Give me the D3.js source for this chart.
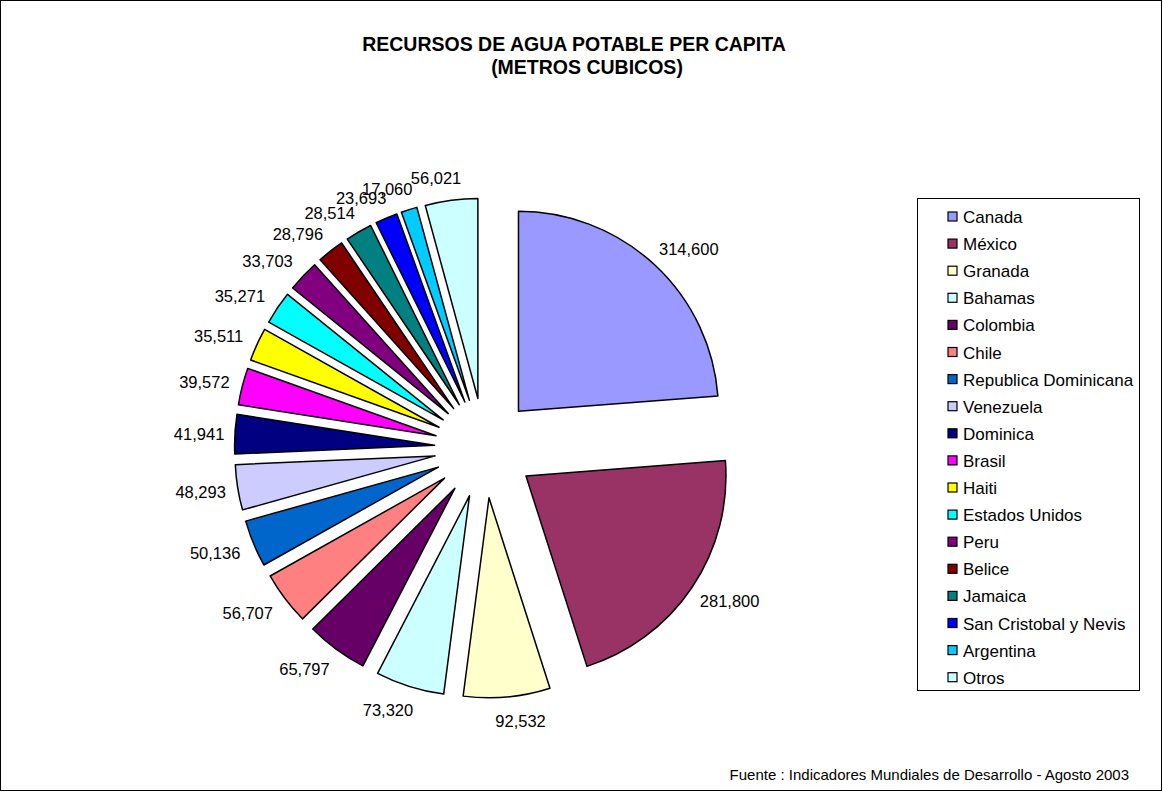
<!DOCTYPE html>
<html><head><meta charset="utf-8">
<script src="https://cdn.jsdelivr.net/npm/d3@7"></script>
<style>body{margin:0;background:#fff;font-family:Arial,"Liberation Sans",sans-serif;}</style>
</head><body><svg id="c" width="1163" height="792"></svg>
<script>
const categories = ["Canada","México","Granada","Bahamas","Colombia","Chile","Republica Dominicana","Venezuela","Dominica","Brasil","Haiti","Estados Unidos","Peru","Belice","Jamaica","San Cristobal y Nevis","Argentina","Otros"];
const values = [314600,281800,92532,73320,65797,56707,50136,48293,41941,39572,35511,35271,33703,28796,28514,23693,17060,56021];
const colors = ["#9999FF","#993366","#FFFFCC","#CCFFFF","#660066","#FF8080","#0066CC","#CCCCFF","#000080","#FF00FF","#FFFF00","#00FFFF","#800080","#800000","#008080","#0000FF","#00CCFF","#CCFFFF"];
const titleLines = ["RECURSOS DE AGUA POTABLE PER CAPITA","(METROS CUBICOS)"];
const source = "Fuente : Indicadores Mundiales de Desarrollo - Agosto 2003";

const svg = d3.select("#c");
const font = 'Arial, "Liberation Sans", sans-serif';
svg.append("rect").attr("x",0.5).attr("y",0.5).attr("width",1161).attr("height",790).attr("fill","#fff").attr("stroke","#000").attr("stroke-width",1);

const titleX = [574, 587];
svg.selectAll("text.title").data(titleLines).join("text").attr("class","title")
  .attr("x",(d,i)=>titleX[i]).attr("y",(d,i)=>51+i*23).attr("text-anchor","middle")
  .attr("font-family",font).attr("font-weight","bold").attr("font-size",19.5).text(d=>d);

const cx=484.5, cy=448, R=200, explode=50;
const fmt = d3.format(",");
const pie = d3.pie().sort(null).value(d=>d.v).startAngle(0).endAngle(2*Math.PI);
const data = pie(values.map((v,i)=>({v,name:categories[i],color:colors[i]})));
const arc = d3.arc().innerRadius(0).outerRadius(R);
const g = svg.append("g").attr("transform",`translate(${cx},${cy})`);
data.forEach(d=>{
  const m=(d.startAngle+d.endAngle)/2;
  d.dx=Math.sin(m); d.dy=-Math.cos(m);
  d.ox=d.dx*explode; d.oy=d.dy*explode;
});
g.selectAll("path").data(data).join("path")
  .attr("transform",d=>`translate(${d.ox},${d.oy})`)
  .attr("d",arc).attr("fill",d=>d.data.color).attr("stroke","#000").attr("stroke-width",1.5).attr("stroke-linejoin","round");

g.selectAll("text.lab").data(data).join("text").attr("class","lab")
  .attr("font-family",font).attr("font-size",16.5).attr("fill","#000")
  .attr("text-anchor","middle").attr("dominant-baseline","central")
  .attr("x",d=>d.ox+d.dx*(R+25)+Math.sign(d.dx)*(10+15*Math.abs(d.dx*d.dy)))
  .attr("y",d=>d.oy+d.dy*(R+23)+1)
  .text(d=>fmt(d.data.v));

// legend
const lx=917, ly=198, lw=222, lh=492, step=27.1;
svg.append("rect").attr("x",lx+0.5).attr("y",ly+0.5).attr("width",lw).attr("height",lh).attr("fill","#fff").attr("stroke","#000").attr("stroke-width",1);
const li = svg.selectAll("g.li").data(categories).join("g").attr("class","li")
  .attr("transform",(d,i)=>`translate(${lx+31},${217+i*step})`);
li.append("rect").attr("x",0).attr("y",-5).attr("width",9).attr("height",9)
  .attr("fill",(d,i)=>colors[i]).attr("stroke","#000").attr("stroke-width",1.2);
li.append("text").attr("x",15).attr("y",0.5).attr("dominant-baseline","central")
  .attr("font-family",font).attr("font-size",17).text(d=>d);

svg.append("text").attr("x",1129).attr("y",780).attr("text-anchor","end")
  .attr("font-family",font).attr("font-size",15).text(source);
</script></body></html>
